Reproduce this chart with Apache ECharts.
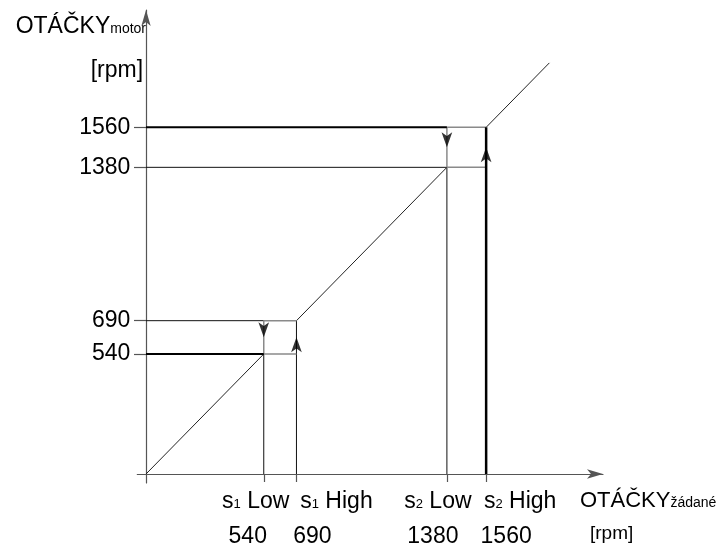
<!DOCTYPE html>
<html>
<head>
<meta charset="utf-8">
<script src="https://cdn.jsdelivr.net/npm/echarts@6/dist/echarts.min.js"></script>
<style>
  html, body { margin: 0; padding: 0; background: #fff; }
  #chart { width: 720px; height: 552px; }
</style>
</head>
<body>
<div id="chart"></div>
<script>
// spínací body (rpm)
const switchValues = [540, 690, 1380, 1560];
const switchStage = [1, 1, 2, 2];
const switchLevel = ['Low', 'High', 'Low', 'High'];

// šikmé úseky charakteristiky [x, y]
const rampLow = [[0, 0], [540, 540]];
const rampMid = [[690, 690], [1380, 1380]];
const rampHigh = [[1560, 1560], [1850, 1850]];

// vodorovné / svislé čáry
const thinLines = [
  [[0, 690], [540, 690]],
  [[0, 1380], [1380, 1380]],
  [[540, 0], [540, 540]],
  [[690, 0], [690, 690]],
  [[1380, 0], [1380, 1380]]
];
const boldLines = [
  [[0, 540], [540, 540]],
  [[0, 1560], [1380, 1560]]
];
const boldUp = [[1560, 0], [1560, 1560]];
// hystereze (šedé obdélníky)
const boxLines = [
  [[540, 540], [690, 540]],
  [[540, 690], [690, 690]],
  [[540, 540], [540, 690]],
  [[1380, 1380], [1560, 1380]],
  [[1380, 1560], [1560, 1560]],
  [[1380, 1380], [1380, 1560]]
];
// šipky
const arrowsDown = [[540, 615], [1380, 1470]];
const arrowsUp = [[690, 615], [1560, 1470]];

// posun popisků osy x vůči značce (px): [řádek1, řádek2]
const labelShift = [[-8, -16], [40, 16], [-9, -14], [34, 20]];

const chart = echarts.init(document.getElementById('chart'));

const rich = {
  sub: { fontSize: 13, lineHeight: 20, padding: [7, 0, 0, 0], color: '#000' }
};
switchValues.forEach(function (v, i) {
  const a = labelShift[i][0];
  const b = labelShift[i][1];
  rich['s' + i] = { fontSize: 23, lineHeight: 35, color: '#000', padding: [0, 0, 0, a > 0 ? 2 * a : 0] };
  rich['w' + i] = { fontSize: 23, lineHeight: 35, color: '#000', padding: [0, a < 0 ? -2 * a : 0, 0, 0] };
  rich['n' + i] = { fontSize: 23, lineHeight: 35, color: '#000', padding: [0, b < 0 ? -2 * b : 0, 0, b > 0 ? 2 * b : 0] };
});

function xLabel(value) {
  const i = switchValues.indexOf(value);
  if (i < 0) return '';
  return '{s' + i + '|s}{sub|' + switchStage[i] + '}{w' + i + '| ' + switchLevel[i] + '}\n{n' + i + '|' + value + '}';
}

function seg(data, color, width) {
  return {
    type: 'line',
    data: data,
    symbol: 'none',
    silent: true,
    lineStyle: { color: color, width: width },
    z: 2
  };
}

const series = [];
[rampLow, rampMid, rampHigh].forEach(function (d) { series.push(seg(d, '#222', 1)); });
thinLines.forEach(function (d) { series.push(seg(d, '#111', 1)); });
boxLines.forEach(function (d) { series.push(seg(d, '#8a8a8a', 1.5)); });
boldLines.forEach(function (d) { series.push(seg(d, '#000', 2)); });
series.push(seg(boldUp, '#000', 2.5));
series.push({
  type: 'scatter',
  data: arrowsDown,
  symbol: 'arrow',
  symbolSize: [8, 15],
  symbolRotate: 180,
  itemStyle: { color: '#000' },
  silent: true,
  z: 3
});
series.push({
  type: 'scatter',
  data: arrowsUp,
  symbol: 'arrow',
  symbolSize: [8, 15],
  itemStyle: { color: '#000' },
  silent: true,
  z: 3
});

const X_MIN = -40, X_MAX = 2096;
// popisky rozdělené na dvě osy, aby se navzájem neskrývaly
const xLabelsA = switchValues.filter(function (v, i) { return i % 2 === 0; });
const xLabelsB = switchValues.filter(function (v, i) { return i % 2 === 1; });

chart.setOption({
  animation: false,
  textStyle: { fontFamily: 'Liberation Sans, Arial, sans-serif', color: '#000' },
  grid: {
    left: 137.3,
    right: 117,
    top: 10,
    bottom: 69.1,
    containLabel: false,
    outerBoundsMode: 'none'
  },
  xAxis: [{
    type: 'value',
    position: 'bottom',
    min: X_MIN,
    max: X_MAX,
    splitLine: { show: false },
    axisLine: {
      onZero: true,
      onZeroAxisIndex: 0,
      symbol: ['none', 'arrow'],
      symbolSize: [7, 16],
      lineStyle: { color: '#555', width: 1.2 }
    },
    axisTick: {
      customValues: switchValues,
      length: 8,
      lineStyle: { color: '#555', width: 1.2 }
    },
    axisLabel: {
      customValues: xLabelsA,
      margin: 1,
      showMinLabel: true,
      showMaxLabel: true,
      formatter: xLabel,
      rich: rich
    },
    name: '{t|OTÁČKY}{m|žádané}\n{u|[rpm]}',
    nameLocation: 'end',
    nameGap: -23,
    nameMoveOverlap: false,
    nameTextStyle: {
      align: 'left',
      verticalAlign: 'top',
      padding: [9, 0, 0, 0],
      rich: {
        t: { fontSize: 22, lineHeight: 35, color: '#000' },
        m: { fontSize: 14, lineHeight: 20, padding: [6, 0, 0, 0], color: '#000' },
        u: { fontSize: 19, lineHeight: 32, padding: [0, 0, 0, 10], color: '#000' }
      }
    }
  }, {
    type: 'value',
    position: 'bottom',
    min: X_MIN,
    max: X_MAX,
    splitLine: { show: false },
    axisLine: { show: false, onZero: true, onZeroAxisIndex: 0 },
    axisTick: { show: false },
    axisLabel: {
      customValues: xLabelsB,
      margin: 1,
      showMinLabel: true,
      showMaxLabel: true,
      formatter: xLabel,
      rich: rich
    }
  }],
  yAxis: {
    type: 'value',
    min: -40,
    max: 2088,
    splitLine: { show: false },
    axisLine: {
      onZero: true,
      symbol: ['none', 'arrow'],
      symbolSize: [7, 16],
      lineStyle: { color: '#555', width: 1.2 }
    },
    axisTick: {
      customValues: switchValues,
      length: 12,
      lineStyle: { color: '#555', width: 1.2 }
    },
    axisLabel: {
      customValues: switchValues,
      margin: 7,
      fontSize: 23,
      color: '#000',
      showMinLabel: true,
      showMaxLabel: true,
      formatter: function (value) { return String(value); }
    },
    name: '{t|OTÁČKY}{m|motor}\n{u|[rpm]}',
    nameLocation: 'end',
    nameGap: -3,
    nameMoveOverlap: false,
    nameTextStyle: {
      align: 'right',
      verticalAlign: 'top',
      rich: {
        t: { fontSize: 23, lineHeight: 28, color: '#000' },
        m: { fontSize: 14, lineHeight: 20, padding: [4, 0, 0, 0], color: '#000' },
        u: { fontSize: 23, lineHeight: 60, padding: [0, 3, 0, 0], color: '#000' }
      }
    }
  },
  series: series
});

window.addEventListener('resize', function () {
  chart.resize();
});
</script>
</body>
</html>
